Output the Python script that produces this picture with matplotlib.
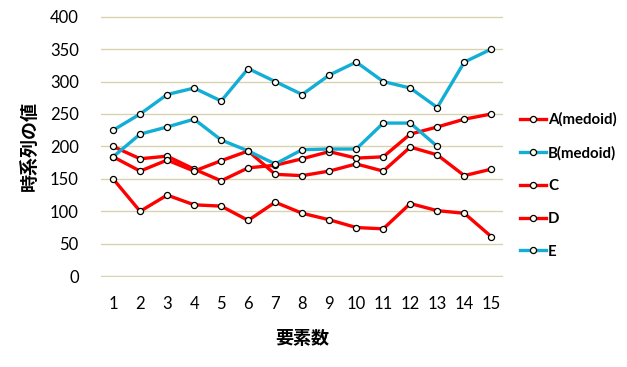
import matplotlib
matplotlib.use("Agg")
import matplotlib.pyplot as plt

plt.rcParams['font.family'] = ['Noto Sans CJK JP', 'DejaVu Sans']

# data
x = list(range(1, 16))
a_medoid = [200, 181, 185, 165, 147, 167, 171, 181, 192, 182, 184, 219, 230, 242, 250]
b_medoid = [225, 250, 280, 290, 270, 320, 300, 280, 310, 330, 300, 290, 260, 330, 350]
c = [184, 162, 179, 162, 178, 193, 157, 155, 162, 173, 162, 199, 187, 155, 165]
d = [150, 100, 125, 110, 108, 86, 114, 97, 87, 75, 73, 112, 101, 97, 61]
e = [184, 219, 230, 242, 210, 193, 173, 195, 196, 196, 236, 236, 200]

names = ["A(medoid)", "B(medoid)", "C", "D", "E"]
series = [a_medoid, b_medoid, c, d, e]
red = "#ff0000"
cyan = "#12aed6"
colors = [red, cyan, red, red, cyan]

fig = plt.figure(figsize=(6.27, 3.67), dpi=100)
ax = fig.add_axes([0.161, 0.246, 0.642, 0.71])

for name, vals, col in zip(names, series, colors):
    ax.plot(x[:len(vals)], vals, color=col, lw=2.4, label=name,
            marker="o", ms=4.4, mfc="#fffff4", mec="black", mew=0.9, zorder=3)

ax.set_ylim(-0.8, 400.8)
ax.set_yticks(range(0, 401, 50))
ax.set_xlim(0.55, 15.45)
ax.set_xticks(x)
ax.grid(axis="y", color="#d8d2b0", lw=1)
ax.set_axisbelow(True)
for s in ax.spines.values():
    s.set_visible(False)
ax.tick_params(length=0, labelsize=12, pad=14)
ax.tick_params(axis="y", pad=16)
for lab in ax.get_xticklabels() + ax.get_yticklabels():
    lab.set_family("Lato")

ax.set_xlabel("要素数", fontsize=13, fontweight="bold", labelpad=12)
ax.set_ylabel("時系列の値", fontsize=13, fontweight="bold", labelpad=8)

ax.legend(loc="center left", bbox_to_anchor=(1.008, 0.35), frameon=False,
          handlelength=1.7, handletextpad=0.15, labelspacing=1.25,
          prop={"family": "Lato", "weight": "bold", "size": 10.8})

fig.savefig("out.png", dpi=100)
